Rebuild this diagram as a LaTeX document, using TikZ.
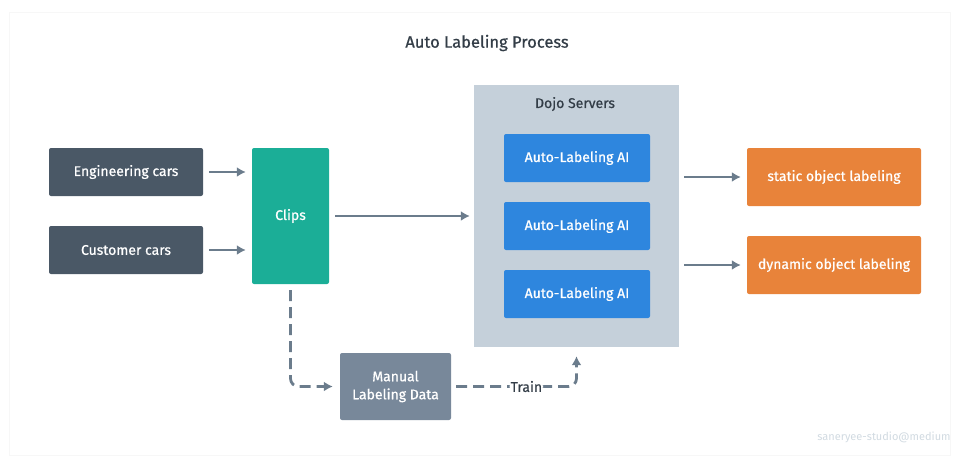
\documentclass[tikz,border=0pt]{standalone}
\usepackage{fontspec}
\setmainfont{Fira Sans}
\newfontfamily\medfont[FakeBold=0.7]{Fira Sans}
\definecolor{CarSlate}  {RGB}{74,88,102}
\definecolor{ClipTeal}  {RGB}{27,174,151}
\definecolor{AIBlue}    {RGB}{46,134,222}
\definecolor{LabOrange} {RGB}{232,131,58}
\definecolor{ManGray}   {RGB}{120,136,154}
\definecolor{DojoBG}    {RGB}{197,208,218}
\definecolor{ArrGray}   {RGB}{107,124,140}
\definecolor{TitleInk}  {RGB}{51,61,71}
\usetikzlibrary{arrows.meta,positioning,calc}

\begin{document}
\begin{tikzpicture}[x=1pt,y=-1pt,
  box/.style={rounded corners=2pt,text=white,align=center,
              font=\medfont\fontsize{14}{17}\selectfont,inner sep=0pt},
  carbox/.style={box,fill=CarSlate,minimum width=154pt,minimum height=48pt},
  aibox/.style={box,fill=AIBlue,minimum width=146pt,minimum height=48pt},
  labbox/.style={box,fill=LabOrange,minimum width=174pt,minimum height=58pt},
  flow/.style={-{Latex[length=9pt,width=10pt]},ArrGray,line width=2.8pt,
               shorten <=6pt,shorten >=6pt},
  dflow/.style={flow,dash pattern=on 11pt off 6pt,rounded corners=8pt}]
  \useasboundingbox (0,0) rectangle (958,461);
  \draw[black!3,line width=1pt] (9,12) rectangle (950,455);
  \node[font=\medfont\fontsize{16.5}{19}\selectfont,text=TitleInk](title) at (487,43){Auto Labeling Process};
  % sources
  \node[carbox](eng) at (126,172){Engineering cars};
  \node[carbox](cust) at (126,250){Customer cars};
  \node[box,fill=ClipTeal,minimum width=77pt,minimum height=136pt](clips) at (290.5,216){Clips};
  % dojo
  \node[fill=DojoBG,minimum width=205pt,minimum height=262pt,inner sep=0pt](dojo) at (576.5,216){};
  \node[font=\medfont\fontsize{14}{17}\selectfont,text=TitleInk](dojotitle) at (575,104){Dojo Servers};
  \node[aibox](ai1) at (577,158){Auto-Labeling AI};
  \node[aibox](ai2) at (577,226){Auto-Labeling AI};
  \node[aibox](ai3) at (577,294){Auto-Labeling AI};
  % outputs
  \node[labbox](static) at (834,177){static object labeling};
  \node[labbox](dynamic) at (834,265){dynamic object labeling};
  \node[box,fill=ManGray,minimum width=111pt,minimum height=67pt](manual) at (395.5,386.5){Manual\\[1pt]Labeling Data};
  \node[text=DojoBG!80!white,font=\fontsize{11}{13}\selectfont](credit) at (884,437){saneryee-studio@medium};
  \draw[flow](eng.east)--(eng.east-|clips.west);
  \draw[flow](cust.east)--(cust.east-|clips.west);
  \draw[flow,shorten >=4pt](clips.east)--(dojo.west);
  \draw[flow,shorten <=5pt](static.west-|dojo.east)--(static.west);
  \draw[flow,shorten <=5pt](dynamic.west-|dojo.east)--(dynamic.west);
  \draw[dflow,shorten >=7pt](clips.south)|-(manual.west);
  \draw[dflow,shorten >=9pt,shorten <=5pt](manual.east)-|(dojo.south)
    node[pos=0.3,fill=white,text=TitleInk,inner sep=1pt,
         font=\medfont\fontsize{14}{17}\selectfont]{Train};
\end{tikzpicture}
\end{document}
